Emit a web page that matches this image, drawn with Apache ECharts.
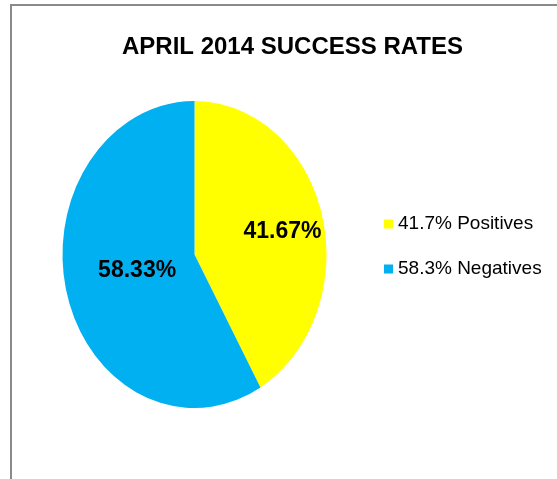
<!DOCTYPE html>
<html>
<head>
<meta charset="utf-8">
<script src="https://cdn.jsdelivr.net/npm/echarts@6/dist/echarts.min.js"></script>
<style>
  html, body { margin: 0; padding: 0; background: #fff; }
  #chart { width: 557px; height: 479px; }
</style>
</head>
<body>
<div id="chart"></div>
<script>
var categories = ['Positives', 'Negatives'];
var values = [41.67, 58.33];
var colors = ['#FFFF00', '#00B0F0'];

var total = values.reduce(function (a, b) { return a + b; }, 0);

// pie is drawn as an ellipse (stretched vertically), like the original
var cx = 194.5, cy = 254.5, rx = 132, ry = 153.5;
var labelDist = [0.69, 0.45];
var labelNudge = [5, -2];

function startOf(idx) {
  var s = 0;
  for (var i = 0; i < idx; i++) s += values[i];
  return s;
}

function makeRender(idx) {
  return function (params, api) {
    var v = api.value(0);
    var a0 = -Math.PI / 2 + startOf(idx) / total * Math.PI * 2;
    var a1 = a0 + v / total * Math.PI * 2;
    var mid = (a0 + a1) / 2;
    var d = rx * labelDist[idx];
    return {
      type: 'group',
      children: [
        {
          type: 'sector',
          x: cx,
          y: cy,
          scaleY: ry / rx,
          shape: { cx: 0, cy: 0, r0: 0, r: rx, startAngle: a0, endAngle: a1, clockwise: true },
          style: { fill: api.visual('color') }
        },
        {
          type: 'text',
          x: cx + Math.cos(mid) * d,
          y: cy + Math.sin(mid) * d * ry / rx + labelNudge[idx],
          style: {
            text: v.toFixed(2) + '%',
            fill: '#000',
            font: 'bold 23px "Liberation Sans", Arial, sans-serif',
            align: 'center',
            verticalAlign: 'middle'
          }
        }
      ]
    };
  };
}

var series = categories.map(function (name, i) {
  return {
    name: name,
    type: 'custom',
    coordinateSystem: 'none',
    itemStyle: { color: colors[i] },
    renderItem: makeRender(i),
    data: [[values[i]]]
  };
});

var chart = echarts.init(document.getElementById('chart'));
chart.setOption({
  animation: false,
  title: {
    text: 'APRIL 2014 SUCCESS RATES',
    left: 117,
    top: 30,
    textStyle: {
      fontFamily: '"Liberation Sans", Arial, sans-serif',
      fontWeight: 'bold',
      fontSize: 24,
      color: '#000'
    }
  },
  legend: {
    orient: 'vertical',
    left: 384,
    top: 214,
    padding: 0,
    itemWidth: 9,
    itemHeight: 9,
    itemGap: 25,
    icon: 'rect',
    data: categories,
    formatter: function (name) {
      var i = categories.indexOf(name);
      return (values[i] / total * 100).toFixed(1) + '% ' + name;
    },
    textStyle: {
      fontFamily: '"Liberation Sans", Arial, sans-serif',
      fontSize: 19,
      lineHeight: 20,
      color: '#000'
    }
  },
  graphic: [
    {
      type: 'polyline',
      shape: { points: [[11, 479], [11, 5], [557, 5]] },
      style: { stroke: '#8a8a8a', lineWidth: 2, fill: null }
    }
  ],
  series: series
});
</script>
</body>
</html>
